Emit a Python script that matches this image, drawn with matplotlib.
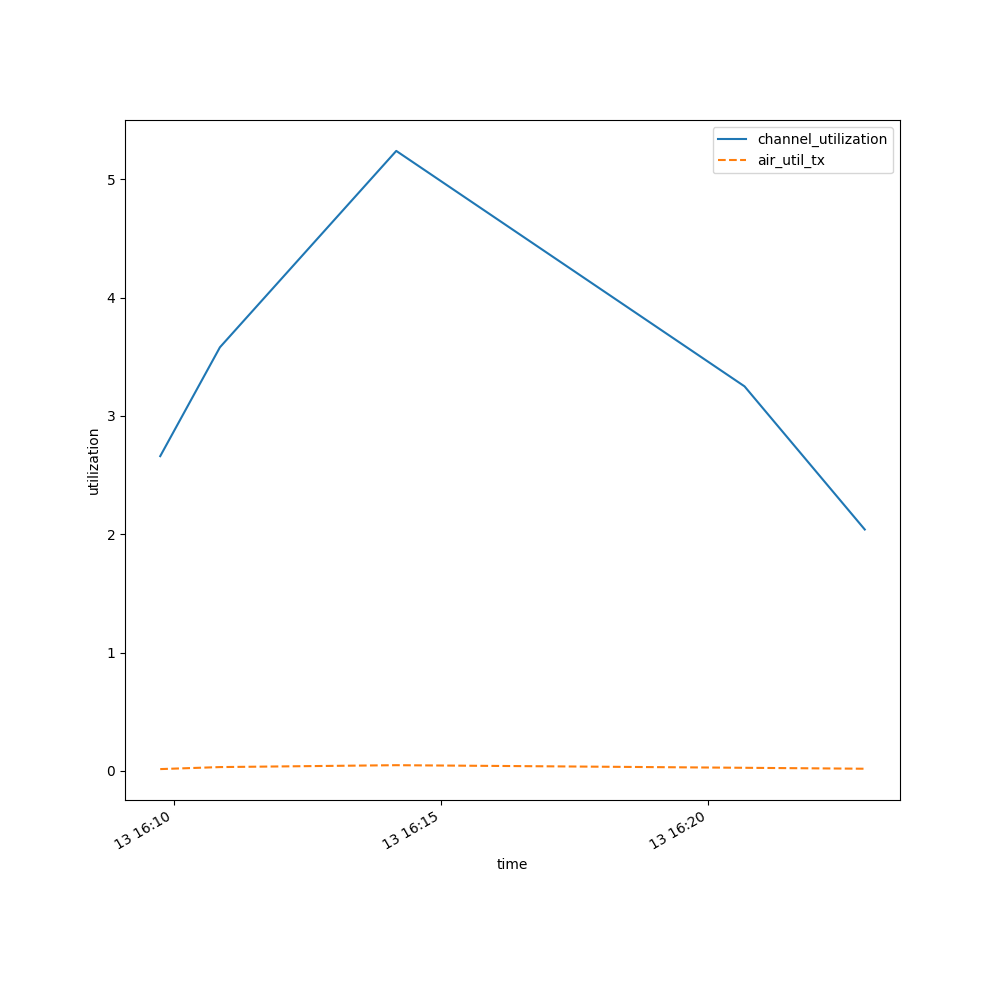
import matplotlib
matplotlib.use("Agg")
import matplotlib.pyplot as plt
import pandas as pd

# sample times (day 13)
times = pd.to_datetime([
    "2024-01-13 16:09:45",
    "2024-01-13 16:10:52",
    "2024-01-13 16:14:10",
    "2024-01-13 16:20:41",
    "2024-01-13 16:22:56",
])
channel_utilization = [2.66, 3.58, 5.24, 3.25, 2.04]
air_util_tx = [0.015, 0.032, 0.048, 0.026, 0.018]

fig, ax = plt.subplots(figsize=(10, 10), dpi=100)
ax.plot(times, channel_utilization, color="#1f77b4", linestyle="-", label="channel_utilization")
ax.plot(times, air_util_tx, color="#ff7f0e", linestyle="--", label="air_util_tx")
ax.set_xlabel("time")
ax.set_ylabel("utilization")
ax.legend(loc="upper right")
fig.autofmt_xdate()
fig.savefig("out.png")
